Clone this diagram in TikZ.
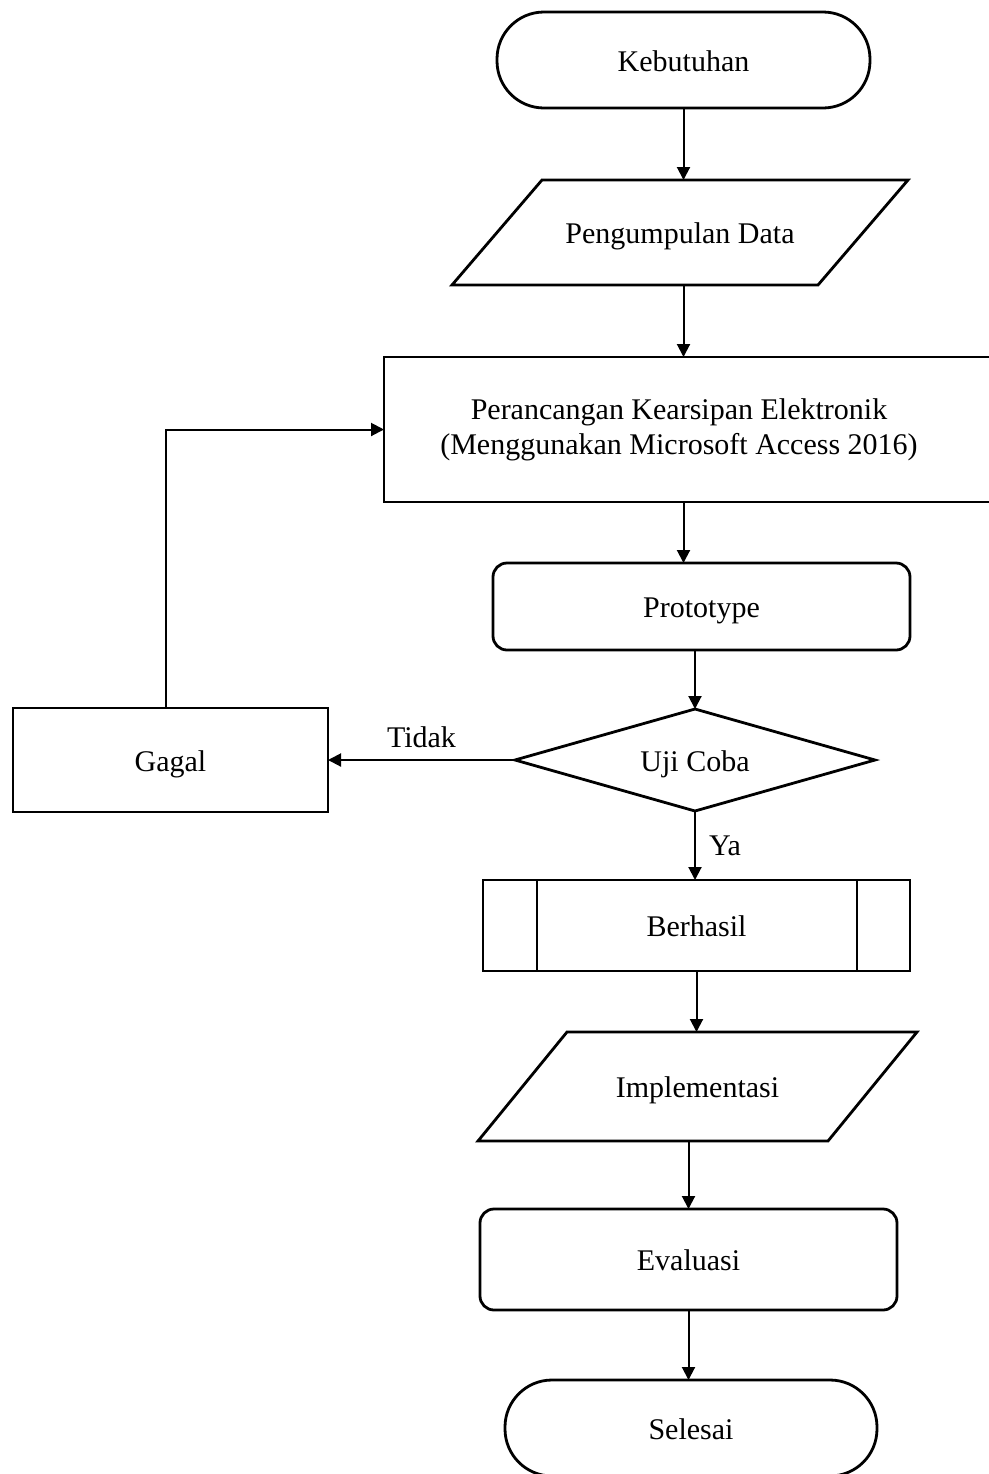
\documentclass[tikz,border=0pt]{standalone}
\usepackage{fontspec}
\setmainfont{Liberation Serif}
\usetikzlibrary{shapes.geometric,arrows.meta}
\begin{document}
\begin{tikzpicture}[x=0.5pt,y=-0.5pt,
  every node/.style={font=\fontsize{15}{17.5}\selectfont, inner sep=0pt, outer sep=0pt},
  shp/.style={draw, line width=1.4pt},
  ctext/.style={text height=11pt, text depth=0pt},
  boxnode/.style={shp, rectangle, ctext},
  roundnode/.style={shp, rectangle, rounded corners=7pt, ctext},
  stadium/.style={shp, rectangle, rounded corners=23.5pt, ctext},
  iobox/.style={rectangle, ctext},
  decision/.style={shp, diamond, shape aspect=3.5, ctext},
  arr/.style={line width=1pt, -{Triangle[length=6.5pt,width=6.5pt]}}]
\useasboundingbox (0,0) rectangle (989,1474);

\node[stadium, minimum width=186.5pt, minimum height=48pt] (keb) at (683.5,60) {Kebutuhan};
\node[iobox, minimum width=228pt, minimum height=52.5pt] (peng) at (680,232.5) {Pengumpulan Data};
\draw[shp] ([xshift=45pt]peng.north west) -- (peng.north east) -- ([xshift=-45pt]peng.south east) -- (peng.south west) -- cycle;
\node[boxnode, minimum width=308pt, minimum height=72.5pt] (pera) at (692,429.5) {};
\node[align=center] (peratxt) at (679,430) {Perancangan Kearsipan Elektronik\\(Menggunakan Microsoft Access 2016)};
\node[roundnode, minimum width=208.5pt, minimum height=43.5pt] (proto) at (701.5,606.5) {Prototype};
\node[decision, minimum width=180pt, minimum height=51pt] (uji) at (695,760) {Uji Coba};
\node[boxnode, minimum width=157.5pt, minimum height=52pt] (gagal) at (170.5,760) {Gagal};
\node[boxnode, minimum width=213.5pt, minimum height=45.5pt] (berh) at (696.5,925.5) {Berhasil};
\draw[line width=1.4pt] ([xshift=27pt]berh.north west) -- ([xshift=27pt]berh.south west);
\draw[line width=1.4pt] ([xshift=-26.5pt]berh.north east) -- ([xshift=-26.5pt]berh.south east);
\node[iobox, minimum width=219.5pt, minimum height=54.5pt] (impl) at (697.5,1086.5) {Implementasi};
\draw[shp] ([xshift=44.5pt]impl.north west) -- (impl.north east) -- ([xshift=-44.5pt]impl.south east) -- (impl.south west) -- cycle;
\node[roundnode, minimum width=208.5pt, minimum height=50.5pt] (eval) at (688.5,1259.5) {Evaluasi};
\node[stadium, minimum width=186pt, minimum height=48pt] (sel) at (691,1428) {Selesai};

\draw[arr] (keb.south) -- (keb.south |- peng.north);
\draw[arr] (keb.south |- peng.south) -- (keb.south |- pera.north);
\draw[arr] (keb.south |- pera.south) -- (keb.south |- proto.north);
\draw[arr] (uji.north |- proto.south) -- (uji.north);
\draw[arr] (uji.west) -- node[above=6pt] {Tidak} (gagal.east);
\draw[arr] ([xshift=-2.5pt]gagal.north) |- (pera.west);
\draw[arr] (uji.south) -- node[right=7pt] {Ya} (uji.south |- berh.north);
\draw[arr] (berh.south) -- (berh.south |- impl.north);
\draw[arr] (eval.north |- impl.south) -- (eval.north);
\draw[arr] (eval.south) -- (eval.south |- sel.north);
\end{tikzpicture}
\end{document}
